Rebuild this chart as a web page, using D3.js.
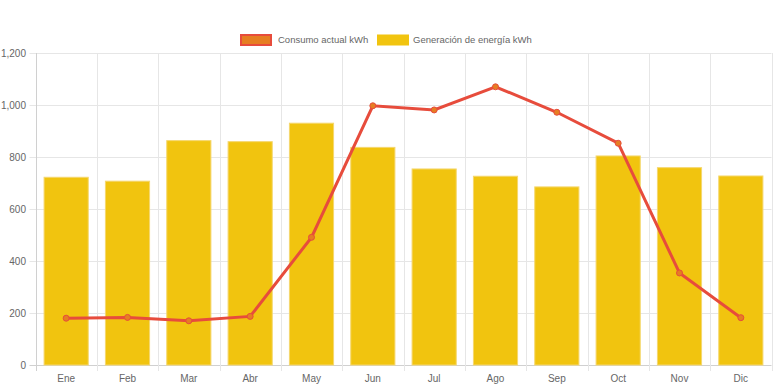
<!DOCTYPE html>
<html>
<head>
<meta charset="utf-8">
<script src="https://cdn.jsdelivr.net/npm/d3@7"></script>
<style>
  body { margin: 0; background: #fff; }
  svg { display: block; font-family: "Liberation Sans", Arial, sans-serif; }
</style>
</head>
<body>
<svg id="chart" width="776" height="388"></svg>
<script>
const months = ["Ene", "Feb", "Mar", "Abr", "May", "Jun", "Jul", "Ago", "Sep", "Oct", "Nov", "Dic"];
const generacion = [722, 707, 863, 859, 930, 837, 754, 726, 685, 804, 759, 727];
const consumo = [180, 183, 170, 187, 491, 997, 981, 1070, 972, 853, 354, 182];
const yTicks = [0, 200, 400, 600, 800, 1000, 1200];

const svg = d3.select("#chart");
const plotLeft = 35.5, plotRight = 771.5, plotTop = 53, plotBottom = 365;

const x = d3.scaleBand().domain(months).range([plotLeft, plotRight]);
const y = d3.scaleLinear().domain([0, 1200]).range([plotBottom, plotTop]);
const fmt = d3.format(",");

// grid
const grid = svg.append("g");
grid.selectAll("line.h")
  .data(yTicks)
  .enter().append("line")
  .attr("x1", plotLeft - 6)
  .attr("x2", plotRight)
  .attr("y1", d => Math.round(y(d)) + 0.5)
  .attr("y2", d => Math.round(y(d)) + 0.5)
  .attr("stroke", d => d === 0 ? "#d0d0d0" : "#e6e6e6");

const vlines = d3.range(months.length + 1).map(i => plotLeft + i * x.step());
grid.selectAll("line.v")
  .data(vlines)
  .enter().append("line")
  .attr("x1", d => Math.round(d) + 0.5)
  .attr("x2", d => Math.round(d) + 0.5)
  .attr("y1", plotTop)
  .attr("y2", plotBottom + 6)
  .attr("stroke", (d, i) => i === 0 ? "#d0d0d0" : "#e6e6e6");

// y labels
svg.append("g").selectAll("text")
  .data(yTicks)
  .enter().append("text")
  .attr("x", 26)
  .attr("y", d => y(d))
  .attr("dy", "0.35em")
  .attr("text-anchor", "end")
  .attr("font-size", "10px")
  .attr("fill", "#666")
  .text(d => fmt(d));

// x labels
svg.append("g").selectAll("text")
  .data(months)
  .enter().append("text")
  .attr("x", d => x(d) + x.bandwidth() / 2)
  .attr("y", 382)
  .attr("text-anchor", "middle")
  .attr("font-size", "10px")
  .attr("fill", "#666")
  .text(d => d);

// bars
const bw = x.bandwidth() * 0.72;
svg.append("g").selectAll("rect")
  .data(generacion)
  .enter().append("rect")
  .attr("x", (d, i) => x(months[i]) + (x.bandwidth() - bw) / 2)
  .attr("y", d => y(d))
  .attr("width", bw)
  .attr("height", d => plotBottom - y(d))
  .attr("fill", "#f1c40f")
  .attr("stroke", "#f5d76e")
  .attr("stroke-width", 1);

// line
const line = d3.line()
  .x((d, i) => x(months[i]) + x.bandwidth() / 2)
  .y(d => y(d));

svg.append("path")
  .datum(consumo)
  .attr("d", line)
  .attr("fill", "none")
  .attr("stroke", "#e74c3c")
  .attr("stroke-width", 3);

svg.append("g").selectAll("circle")
  .data(consumo)
  .enter().append("circle")
  .attr("cx", (d, i) => x(months[i]) + x.bandwidth() / 2)
  .attr("cy", d => y(d))
  .attr("r", 3)
  .attr("fill", "#e67e22")
  .attr("stroke", "#e74c3c")
  .attr("stroke-width", 1);

// legend
const legend = svg.append("g");
legend.append("rect")
  .attr("x", 241).attr("y", 35)
  .attr("width", 30).attr("height", 10)
  .attr("fill", "#e67e22")
  .attr("stroke", "#e74c3c")
  .attr("stroke-width", 2);
legend.append("text")
  .attr("x", 278).attr("y", 40)
  .attr("dy", "0.35em")
  .attr("font-size", "9.5px")
  .attr("fill", "#666")
  .text("Consumo actual kWh");
legend.append("rect")
  .attr("x", 377).attr("y", 34.5)
  .attr("width", 32).attr("height", 11)
  .attr("fill", "#f1c40f");
legend.append("text")
  .attr("x", 413).attr("y", 40)
  .attr("dy", "0.35em")
  .attr("font-size", "9.5px")
  .attr("fill", "#666")
  .text("Generación de energía kWh");
</script>
</body>
</html>
